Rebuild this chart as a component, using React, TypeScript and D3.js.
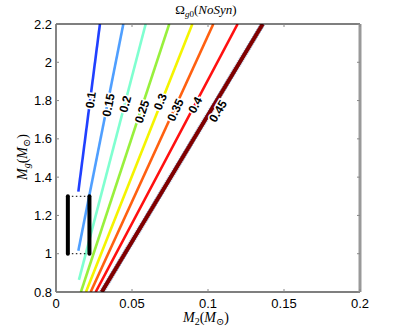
import React from 'react';
import * as d3 from 'd3';

// contour levels of Omega_g0 and their jet colours
const levels = ['0.1', '0.15', '0.2', '0.25', '0.3', '0.35', '0.4', '0.45'];
const lineColors = ['#2040ff', '#4f9fff', '#7fffd0', '#98f03c', '#f4f400', '#ff6010', '#ff1010', '#800000'];

// each contour: lower end and upper end (M2, Mg)
const startM2 = [0.0147, 0.0147, 0.0151, 0.0164, 0.0197, 0.0228, 0.0261, 0.0301];
const startMg = [1.324, 1.016, 0.863, 0.8, 0.8, 0.8, 0.8, 0.8];
const endM2 = [0.0289, 0.0443, 0.059, 0.0745, 0.0897, 0.1035, 0.1195, 0.136];
const endMg = [2.2, 2.2, 2.2, 2.2, 2.2, 2.2, 2.2, 2.2];

// inline labels
const labelM2 = [0.0228, 0.0345, 0.0455, 0.0565, 0.0685, 0.0785, 0.0915, 0.1065];
const labelMg = [1.803, 1.777, 1.782, 1.742, 1.794, 1.751, 1.777, 1.745];

// observed range bracket
const boxM2 = [0.0078, 0.0220];
const boxMg = [1.0, 1.3];

const xTicks = [0, 0.05, 0.1, 0.15, 0.2];
const yTicks = [0.8, 1, 1.2, 1.4, 1.6, 1.8, 2, 2.2];

const W = 397;
const H = 329;
const margin = { top: 24, right: 37, bottom: 37, left: 56 };

export default function App() {
  const x = d3.scaleLinear().domain([0, 0.2]).range([margin.left, W - margin.right]);
  const y = d3.scaleLinear().domain([0.8, 2.2]).range([H - margin.bottom, margin.top]);
  const line = d3.line<[number, number]>().x(d => x(d[0])).y(d => y(d[1]));

  const contours = levels.map((lv, i) => {
    const pts: [number, number][] = [
      [startM2[i], startMg[i]],
      [endM2[i], endMg[i]],
    ];
    const ang = (Math.atan2(y(endMg[i]) - y(startMg[i]), x(endM2[i]) - x(startM2[i])) * 180) / Math.PI;
    return { lv, pts, color: lineColors[i], ang, lx: x(labelM2[i]), ly: y(labelMg[i]) };
  });

  const x0 = margin.left, x1 = W - margin.right, y0 = margin.top, y1 = H - margin.bottom;
  const sans = '"Liberation Sans", Arial, Helvetica, sans-serif';
  const serif = '"Liberation Serif", "DejaVu Serif", serif';

  return (
    <svg width={W} height={H} style={{ position: 'absolute', left: 0, top: 0 }}>
      <rect width={W} height={H} fill="#fff" />
      <defs>
        <clipPath id="plot">
          <rect x={x0} y={y0} width={x1 - x0} height={y1 - y0} />
        </clipPath>
      </defs>

      <g clipPath="url(#plot)">
        {contours.map((c, i) => (
          <g key={c.lv}>
            {i === contours.length - 1 && (
              <path d={line(c.pts) || ''} fill="none" stroke="#88a8d0" strokeWidth={5.5} strokeDasharray="1 1" />
            )}
            <path
              d={line(c.pts) || ''}
              fill="none"
              stroke={c.color}
              strokeWidth={i === contours.length - 1 ? 4 : 2.6}
            />
          </g>
        ))}

        {boxM2.map(m => (
          <line key={m} x1={x(m)} x2={x(m)} y1={y(boxMg[0])} y2={y(boxMg[1])} stroke="#000" strokeWidth={4} strokeLinecap="round" />
        ))}
        {boxMg.map(m => (
          <line key={m} x1={x(boxM2[0])} x2={x(boxM2[1])} y1={y(m)} y2={y(m)} stroke="#000" strokeWidth={1} strokeDasharray="1.5 2.5" />
        ))}
      </g>

      {contours.map(c => (
        <text
          key={'l' + c.lv}
          transform={`translate(${c.lx},${c.ly}) rotate(${c.ang})`}
          textAnchor="middle"
          dy="0.35em"
          fontFamily={sans}
          fontWeight="bold"
          fontSize={12}
          fill="#000"
          stroke="#fff"
          strokeWidth={3}
          paintOrder="stroke"
        >
          {c.lv}
        </text>
      ))}

      {/* frame */}
      <line x1={x0} x2={x1} y1={y0} y2={y0} stroke="#000" strokeWidth={1.2} />
      <line x1={x0} x2={x1} y1={y1} y2={y1} stroke="#000" strokeWidth={1.2} />
      <line x1={x0} x2={x0} y1={y0} y2={y1} stroke="#333" strokeWidth={1.2} />
      <line x1={x1} x2={x1} y1={y0} y2={y1} stroke="#999" strokeWidth={3} />

      {xTicks.map(t => (
        <g key={'x' + t}>
          <line x1={x(t)} x2={x(t)} y1={y1} y2={y1 - 3} stroke="#888" />
          <line x1={x(t)} x2={x(t)} y1={y0} y2={y0 + 3} stroke="#888" />
          <text x={x(t)} y={y1 + 16} textAnchor="middle" fontFamily={sans} fontSize={13} fill="#000">
            {t}
          </text>
        </g>
      ))}
      {yTicks.map(t => (
        <g key={'y' + t}>
          <line x1={x0} x2={x0 + 3} y1={y(t)} y2={y(t)} stroke="#888" />
          <line x1={x1} x2={x1 - 3} y1={y(t)} y2={y(t)} stroke="#888" />
          <text x={x0 - 4} y={y(t)} dy="0.35em" textAnchor="end" fontFamily={sans} fontSize={13} fill="#000">
            {t}
          </text>
        </g>
      ))}

      <text x={206} y={14} textAnchor="middle" fontFamily={serif} fontSize={13} fill="#000">
        <tspan fontStyle="normal">Ω</tspan>
        <tspan fontStyle="italic" fontSize={9} dy={3}>g</tspan>
        <tspan fontSize={9}>0</tspan>
        <tspan dy={-3}>(</tspan>
        <tspan fontStyle="italic">NoSyn</tspan>
        <tspan>)</tspan>
      </text>

      <text x={206} y={322} textAnchor="middle" fontFamily={serif} fontSize={14} fill="#000">
        <tspan fontStyle="italic">M</tspan>
        <tspan fontSize={10} dy={3}>2</tspan>
        <tspan dy={-3}>(</tspan>
        <tspan fontStyle="italic">M</tspan>
        <tspan fontSize={10} dy={3}>⊙</tspan>
        <tspan dy={-3}>)</tspan>
      </text>

      <text transform="translate(27,157) rotate(-90)" textAnchor="middle" fontFamily={serif} fontSize={14} fill="#000">
        <tspan fontStyle="italic">M</tspan>
        <tspan fontStyle="italic" fontSize={10} dy={3}>g</tspan>
        <tspan dy={-3}>(</tspan>
        <tspan fontStyle="italic">M</tspan>
        <tspan fontSize={10} dy={3}>⊙</tspan>
        <tspan dy={-3}>)</tspan>
      </text>
    </svg>
  );
}
